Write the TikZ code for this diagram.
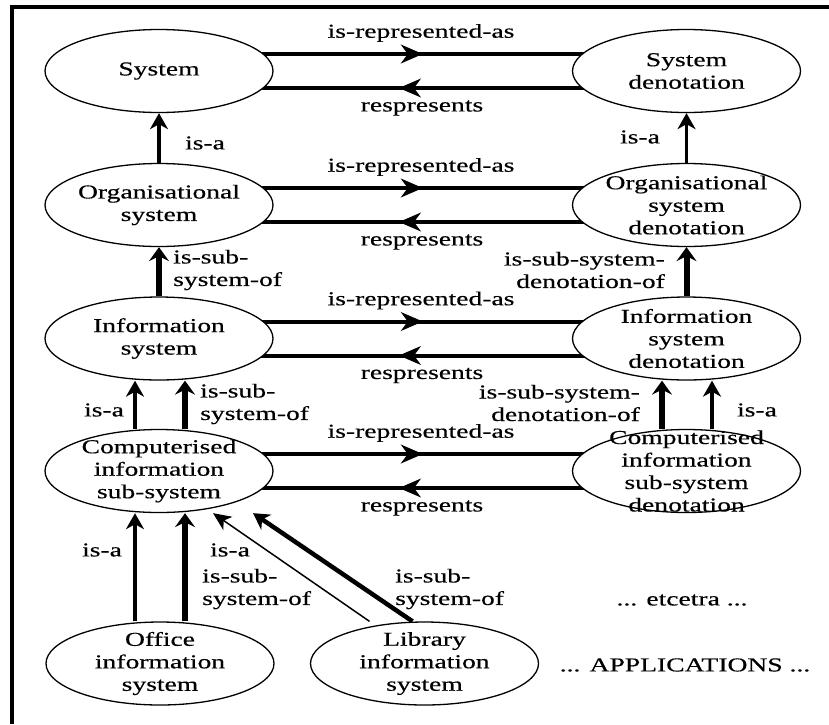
\documentclass[tikz,border=0pt]{standalone}
\usepackage{fontspec}
\setmainfont{Liberation Serif}[FakeStretch=1.4,FakeBold=0.4]
\usetikzlibrary{arrows.meta,shapes.geometric,decorations.markings,backgrounds}

\begin{document}
\begin{tikzpicture}[x=1pt,y=-1pt,
  every node/.style={font=\fontsize{19.7}{22.5}\selectfont},
  ell/.style={ellipse, draw, line width=1.3pt, fill=white,
    minimum width=228pt, minimum height=83pt, inner sep=0pt},
  etxt/.style={align=center, inner sep=0pt},
  lbl/.style={inner sep=0pt},
  thinarr/.style={line width=3.3pt, -{Stealth[length=16pt,width=18pt,inset=5pt]}},
  thickarr/.style={line width=6pt, -{Stealth[length=14pt,width=20pt,inset=5pt]}},
  hairarr/.style={line width=1.5pt, -{Stealth[length=18pt,width=16pt,inset=5pt]}},
  midarr/.style={line width=4pt, postaction=decorate,
    decoration={markings, mark=at position #1 with
      {\arrow[line width=1pt]{Stealth[length=22pt,width=19pt,inset=7pt]}}}}
]
\useasboundingbox (0,0) rectangle (829,724);

% frame
\draw[line width=3.5pt] (12,724) -- (12,7) -- (829,7);

% concepts
\node[ell, label={[etxt]center:System}] (sys) at (159,71) {};
\node[ell, label={[etxt]center:{System\\denotation}}] (sysd) at (686.5,71) {};
\node[ell, label={[etxt]center:{Organisational\\system}}] (org) at (159,205) {};
\node[ell, label={[etxt]center:{Organisational\\system\\denotation}}] (orgd) at (686.5,205) {};
\node[ell, label={[etxt]center:{Information\\system}}] (info) at (159,338.5) {};
\node[ell, label={[etxt]center:{Information\\system\\denotation}}] (infod) at (686.5,338.5) {};
\node[ell, label={[etxt]center:{Computerised\\information\\sub-system}}] (comp) at (159,471) {};
\node[ell, label={[etxt]center:{Computerised\\information\\sub-system\\denotation}}] (compd) at (686.5,471) {};
\node[ell, label={[etxt]center:{Office\\information\\system}}] (office) at (160,663.5) {};
\node[ell, label={[etxt]center:{Library\\information\\system}}] (lib) at (424.5,663.5) {};

% relations, kept under the ellipses
\begin{scope}[on background layer]
  \foreach \a/\b in {sys/sysd, org/orgd, info/infod, comp/compd} {
    \draw[midarr=0.5] ([yshift=17pt]\a.center) -- ([yshift=17pt]\b.center);
    \draw[midarr=0.545] ([yshift=-17pt]\b.center) -- ([yshift=-17pt]\a.center);
  }
  \draw[thinarr] (org.north) -- (sys.south);
  \draw[thickarr] (info.north) -- (org.south);
  \draw[thinarr] ([xshift=-24pt]comp.north) -- ([xshift=-24pt]info.south);
  \draw[thickarr] ([xshift=26pt]comp.north) -- ([xshift=26pt]info.south);
  \draw[thinarr] ([xshift=-25pt]office.north) -- ([xshift=-24pt]comp.south);
  \draw[thickarr] ([xshift=25pt]office.north) -- ([xshift=26pt]comp.south);
  \draw[hairarr] ([xshift=-55pt]lib.north) -- ([xshift=54pt]comp.south);
  \draw[line width=4.5pt, -{Stealth[length=16pt,width=18pt,inset=5pt]}]
    ([xshift=-12pt]lib.north) -- ([xshift=94pt]comp.south);

  \draw[thinarr] (orgd.north) -- (sysd.south);
  \draw[thickarr] (infod.north) -- (orgd.south);
  \draw[thickarr] ([xshift=-24.5pt]compd.north) -- ([xshift=-24.5pt]infod.south);
  \draw[thinarr] ([xshift=25.5pt]compd.north) -- ([xshift=25.5pt]infod.south);
\end{scope}

% relation names
\foreach \y/\n in {71/1, 205/2, 338.5/3, 471/4} {
  \node[lbl] (rep\n) at (421,\y-38) {is-represented-as};
  \node[lbl] (res\n) at (422,\y+37) {respresents};
}
\node[lbl] (isa1) at (205,143) {is-a};
\node[lbl] (isa2) at (640,137) {is-a};
\node[lbl, anchor=west, align=left] (sub1) at (173,270) {is-sub-\\system-of};
\node[lbl, anchor=east, align=right] (sub2) at (665,270) {is-sub-system-\\denotation-of};
\node[lbl] (isa3) at (104,410) {is-a};
\node[lbl, anchor=west, align=left] (sub3) at (200,404) {is-sub-\\system-of};
\node[lbl, anchor=east, align=right] (sub4) at (640,403) {is-sub-system-\\denotation-of};
\node[lbl] (isa4) at (757,410) {is-a};
\node[lbl] (isa5) at (102,550) {is-a};
\node[lbl] (isa6) at (230,550) {is-a};
\node[lbl, anchor=west, align=left] (sub5) at (202,589) {is-sub-\\system-of};
\node[lbl, anchor=west, align=left] (sub6) at (395,589) {is-sub-\\system-of};
\node[lbl] (etc) at (682,600) {... etcetra ...};
\node[lbl] (apps) at (685,665) {... APPLICATIONS ...};
\end{tikzpicture}
\end{document}
